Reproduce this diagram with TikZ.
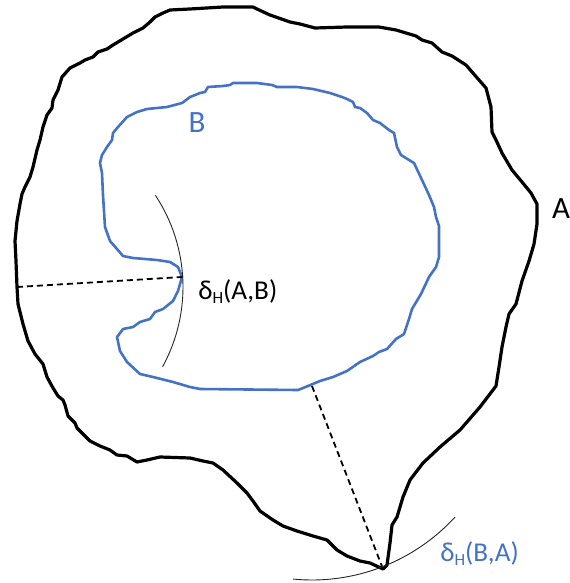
\documentclass[tikz,border=0pt]{standalone}
\usepackage{fontspec}
\setmainfont{Carlito}
\usepackage{xcolor}
\definecolor{setblue}{HTML}{4472C4}
\newcommand{\hsub}{\raisebox{-0.35ex}{\fontsize{8.5}{9}\selectfont H}}

\begin{document}
\begin{tikzpicture}[x=0.5pt, y=-0.5pt,
    contour/.style={line width=1.6pt, line join=round},
    dist/.style={dash pattern=on 3pt off 2pt, line width=0.9pt},
    reach/.style={line width=0.45pt, black!85},
    setlbl/.style={font=\fontsize{15.5}{18}\selectfont, inner sep=0pt},
    distlbl/.style={font=\fontsize{13.6}{15}\selectfont, inner sep=0pt, anchor=base west},
  ]
  \useasboundingbox (0,0) rectangle (569,583);

  \draw[contour] (190,9) -- (223,7) -- (253,7) -- (257,9) -- (270,15) -- (290,22)
    -- (300,24) -- (315,28) -- (347,27) -- (379,27) -- (396,30) -- (416,36) -- (422,40)
    -- (432,43) -- (442,52) -- (452,56) -- (466,65) -- (479,80) -- (486,88) -- (491,107)
    -- (492,132) -- (496,140) -- (502,153) -- (512,170) -- (522,182) -- (531,193)
    -- (537,204) -- (537,224) -- (534,244) -- (529,261) -- (522,281) -- (516,304)
    -- (509,314) -- (506,327) -- (502,347) -- (499,367) -- (496,386) -- (480,407)
    -- (460,430) -- (440,447) -- (423,463) -- (410,480) -- (403,497) -- (397,517)
    -- (392,525) -- (390,543) -- (387,565) -- (383,569) -- (370,563) -- (360,561)
    -- (347,556) -- (337,550) -- (327,540) -- (313,536) -- (297,531) -- (283,526)
    -- (273,520) -- (260,511) -- (253,501) -- (247,493) -- (237,483) -- (223,470)
    -- (213,463) -- (203,461) -- (190,458) -- (160,457) -- (147,460) -- (137,462)
    -- (127,456) -- (117,455) -- (110,450) -- (100,446) -- (90,441) -- (77,428)
    -- (75,423) -- (68,416) -- (65,405) -- (63,400) -- (58,396) -- (53,388) -- (47,377)
    -- (43,364) -- (35,354) -- (28,341) -- (23,324) -- (18,304) -- (17,287) -- (16,261)
    -- (15,241) -- (17,221) -- (20,204) -- (22,194) -- (25,187) -- (30,177) -- (33,167)
    -- (37,150) -- (40,140) -- (43,127) -- (47,115) -- (52,108) -- (53,100) -- (58,90)
    -- (62,77) -- (70,68) -- (80,63) -- (85,60) -- (93,57) -- (98,52) -- (107,49)
    -- (113,45) -- (123,39) -- (133,33) -- (143,28) -- (150,22) -- (155,17) -- (163,13)
    -- (170,10) -- cycle;

  \draw[contour, setblue, line width=1.3pt] (190,97) -- (200,93) -- (205,92) -- (208,87)
    -- (223,86) -- (230,85) -- (233,83) -- (257,83) -- (272,85) -- (277,87) -- (297,87)
    -- (313,89) -- (330,93) -- (342,97) -- (347,99) -- (353,102) -- (355,107) -- (360,108)
    -- (367,113) -- (373,120) -- (380,123) -- (389,130) -- (394,133) -- (397,147)
    -- (401,155) -- (409,160) -- (414,163) -- (422,180) -- (429,195) -- (434,207)
    -- (436,217) -- (439,226) -- (439,257) -- (436,267) -- (429,277) -- (421,294)
    -- (412,309) -- (409,319) -- (404,334) -- (396,339) -- (387,349) -- (379,352)
    -- (373,356) -- (360,362) -- (347,371) -- (333,377) -- (320,381) -- (308,386)
    -- (298,390) -- (200,389) -- (190,387) -- (173,382) -- (153,377) -- (140,374)
    -- (127,362) -- (120,351) -- (117,337) -- (123,329) -- (133,327) -- (140,322)
    -- (150,319) -- (155,312) -- (163,309) -- (173,301) -- (178,291) -- (182,277)
    -- (178,267) -- (170,262) -- (157,260) -- (133,258) -- (123,256) -- (117,249)
    -- (110,241) -- (105,227) -- (103,195) -- (102,173) -- (100,163) -- (102,155)
    -- (107,147) -- (112,140) -- (113,133) -- (118,127) -- (127,117) -- (137,112)
    -- (147,109) -- (167,107) -- (182,103) -- cycle;

  \coordinate (pa) at (17,287);
  \coordinate (pb) at (182,277);
  \coordinate (qb) at (312,386);
  \coordinate (qa) at (383,569);

  \draw[dist] (pa) -- (pb);
  \draw[dist] (qb) -- (qa);
  \draw[reach] (pa) ++(-33.5:166) arc[start angle=-33.5, end angle=28.7, radius=166];
  \draw[reach] (qb) ++(42.5:194) arc[start angle=42.5, end angle=95.6, radius=194];

  \node[setlbl] (labA) at (561,209) {A};
  \node[setlbl, text=setblue] (labB) at (197,123) {B};
  \node[distlbl] (labAB) at (198,299) {δ\hsub(A,B)};
  \node[distlbl, text=setblue] (labBA) at (440,561) {δ\hsub(B,A)};
\end{tikzpicture}
\end{document}
